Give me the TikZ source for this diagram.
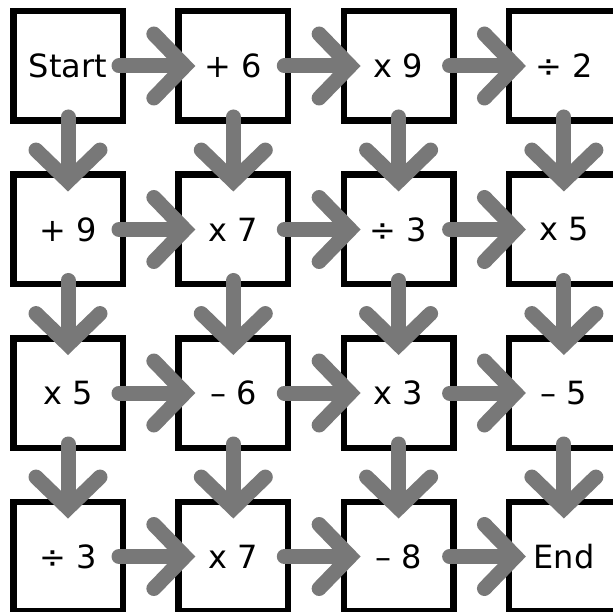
\documentclass[tikz,border=0pt]{standalone}
\usepackage{fontspec}
\setmainfont{DejaVu Sans}
\usepackage{tikz}
\usetikzlibrary{arrows.meta}
\definecolor{arrowgray}{RGB}{120,120,120}

\begin{document}
\begin{tikzpicture}[
    x=1pt, y=-1pt,
    font=\fontsize{32}{36}\selectfont,
    cell/.style={rectangle, draw, line width=6.5pt, fill=white, minimum size=109.5pt, inner sep=0pt},
    flow/.style={arrowgray, line width=15pt, line cap=round,
        -{Straight Barb[length=31pt, width=64pt, line cap=round]},
        shorten <=51pt, shorten >=38pt}
]
\useasboundingbox (0,0) rectangle (613,612);

% Cells
\foreach \lbl [count=\k from 0] in {Start, + 6, x 9, ÷ 2,
                                    + 9, x 7, ÷ 3, x 5,
                                    x 5, – 6, x 3, – 5,
                                    ÷ 3, x 7, – 8, End} {
    \pgfmathtruncatemacro\row{int(\k/4)}
    \pgfmathtruncatemacro\col{mod(\k,4)}
    \node[cell] (c\row\col) at ({68+165.3*\col}, {66+163.5*\row}) {\lbl};
}

% Right arrows
\foreach \r in {0,...,3} {
    \foreach \c/\n in {0/1, 1/2, 2/3} {
        \draw[flow] (c\r\c.center) -- (c\r\n.center);
    }
}

% Down arrows
\foreach \c in {0,...,3} {
    \foreach \r/\n in {0/1, 1/2, 2/3} {
        \draw[flow] (c\r\c.center) -- (c\n\c.center);
    }
}

\end{tikzpicture}
\end{document}
